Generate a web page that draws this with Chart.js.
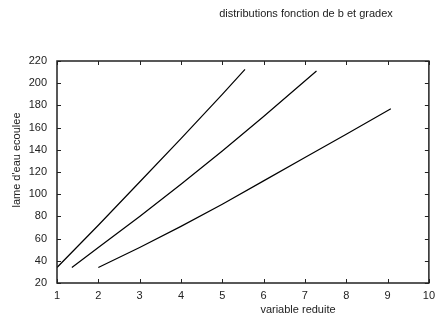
<!DOCTYPE html>
<html>
<head>
<meta charset="utf-8">
<script src="https://cdn.jsdelivr.net/npm/chart.js@4.4.1/dist/chart.umd.min.js"></script>
<style>
	html, body { margin: 0; padding: 0; background: #fff; }
	#wrap { width: 441px; height: 316px; }
</style>
</head>
<body>
<div id="wrap"><canvas id="chart" width="441" height="316"></canvas></div>
<script>
const titleText = "distributions fonction de b et gradex";
const xTitle = "variable reduite";
const yTitle = "lame d'eau ecoulee";

const xTicks = [1, 2, 3, 4, 5, 6, 7, 8, 9, 10];
const yTicks = [20, 40, 60, 80, 100, 120, 140, 160, 180, 200, 220];

// trois courbes
const courbe1X = [1, 2, 3, 4, 5, 5.55];
const courbe1Y = [34, 72, 111, 150, 190, 212.5];
const courbe2X = [1.36, 2, 3, 4, 5, 6, 7.28];
const courbe2Y = [34, 52, 80, 109, 139, 170, 211];
const courbe3X = [2, 3, 4, 5, 6, 7, 8, 9.08];
const courbe3Y = [34, 52, 71, 91, 112, 133, 154, 177];

const font = "'Liberation Sans', Arial, sans-serif";

function toPoints(xs, ys) {
	return xs.map((x, i) => ({ x: x, y: ys[i] }));
}

function serie(xs, ys) {
	return {
		data: toPoints(xs, ys),
		borderColor: "#000",
		borderWidth: 1.2,
		pointRadius: 0,
		showLine: true,
		fill: false,
		tension: 0,
	};
}

const cadre = {
	id: "cadre",
	afterDraw(chart) {
		const ctx = chart.ctx;
		const a = chart.chartArea;
		const sx = chart.scales.x;
		const sy = chart.scales.y;
		ctx.save();
		ctx.strokeStyle = "#222";
		ctx.lineWidth = 1.5;
		ctx.strokeRect(a.left, a.top, a.right - a.left, a.bottom - a.top);
		ctx.lineWidth = 1;
		ctx.beginPath();
		xTicks.forEach(v => {
			const px = Math.round(sx.getPixelForValue(v)) + 0.5;
			ctx.moveTo(px, a.bottom);
			ctx.lineTo(px, a.bottom - 4);
			ctx.moveTo(px, a.top);
			ctx.lineTo(px, a.top + 4);
		});
		yTicks.forEach(v => {
			const py = Math.round(sy.getPixelForValue(v)) + 0.5;
			ctx.moveTo(a.left, py);
			ctx.lineTo(a.left + 4, py);
			ctx.moveTo(a.right, py);
			ctx.lineTo(a.right - 4, py);
		});
		ctx.stroke();

		ctx.fillStyle = "#222";
		ctx.font = "11px " + font;
		ctx.textAlign = "center";
		ctx.textBaseline = "middle";
		ctx.fillText(titleText, 306, 14);
		ctx.fillText(xTitle, 298, 310);
		ctx.translate(17, 160);
		ctx.rotate(-Math.PI / 2);
		ctx.fillText(yTitle, 0, 0);
		ctx.restore();
	},
};

new Chart(document.getElementById("chart"), {
	type: "scatter",
	data: {
		datasets: [
			serie(courbe1X, courbe1Y),
			serie(courbe2X, courbe2Y),
			serie(courbe3X, courbe3Y),
		],
	},
	options: {
		responsive: false,
		animation: false,
		layout: { padding: { top: 61, right: 8, left: 0, bottom: 0 } },
		plugins: {
			legend: { display: false },
			tooltip: { enabled: false },
			title: { display: false },
		},
		scales: {
			x: {
				type: "linear",
				min: 1,
				max: 10,
				afterBuildTicks: scale => {
					scale.ticks = xTicks.map(v => ({ value: v }));
				},
				afterFit: scale => {
					scale.height = 33;
				},
				ticks: {
					color: "#222",
					font: { family: font, size: 11 },
					padding: 6,
					maxRotation: 0,
				},
				grid: { display: false, tickLength: 0 },
				border: { display: false },
			},
			y: {
				type: "linear",
				min: 20,
				max: 220,
				afterBuildTicks: scale => {
					scale.ticks = yTicks.map(v => ({ value: v }));
				},
				afterFit: scale => {
					scale.width = 57;
				},
				ticks: {
					color: "#222",
					font: { family: font, size: 11 },
					padding: 10,
				},
				grid: { display: false, tickLength: 0 },
				border: { display: false },
			},
		},
	},
	plugins: [cadre],
});
</script>
</body>
</html>
